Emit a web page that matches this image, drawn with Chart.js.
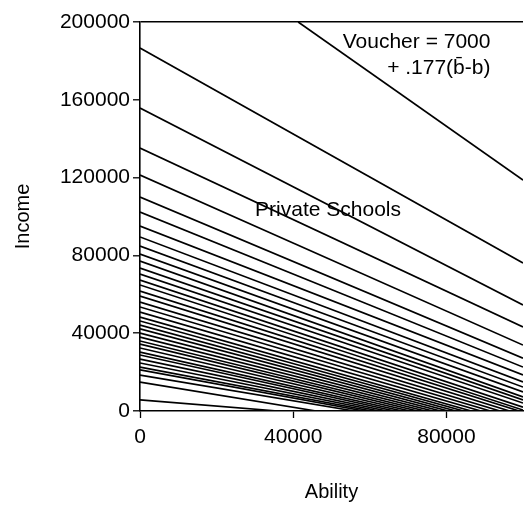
<!DOCTYPE html>
<html>
<head>
<meta charset="utf-8">
<script src="https://cdn.jsdelivr.net/npm/chart.js@4.4.1/dist/chart.umd.min.js"></script>
<style>
html,body{margin:0;padding:0;background:#fff;}
canvas{display:block;}
</style>
</head>
<body>
<canvas id="c" width="524" height="511"></canvas>
<script>
// Tick labels
const xTicks = [0, 40000, 80000];
const yTicks = [0, 40000, 80000, 120000, 160000, 200000];

// Voucher boundary line (ability, income)
const voucherAbility = [41300, 100000];
const voucherIncome = [200000, 118700];

// Income at ability = 0 for each private-school line (top to bottom)
const incomeAtZeroAbility = [186600, 155800, 135200, 121300, 110000, 102300, 95100, 89500, 84800, 80700,
  77100, 73500, 70400, 67300, 64800, 61700, 59100, 56000, 53500, 50900,
  48300, 46300, 44200, 42200, 40100, 38000, 36000, 34400, 32400, 30300,
  28800, 26700, 24700, 22600, 21100, 18500, 14900, 5700];

// Income at ability = 100000 for the lines that reach the right edge (first lines)
const incomeAtMaxAbility = [76100, 54500, 43200, 33900, 27200, 22600, 18500, 14900, 12300, 9800, 7200, 5700, 4100, 2000, 500];

// Ability where income reaches 0 for the remaining lines
const abilityAtZeroIncome = [99000, 96500, 94000, 91500, 89000, 86500, 84500, 82500, 80500, 78500,
  76500, 74500, 72500, 70500, 68500, 66500, 64500, 62500, 60500, 58500, 56000, 46000, 36000];

const maxAbility = 100000;

const datasets = [];
datasets.push({
  data: voucherAbility.map((a, i) => ({x: a, y: voucherIncome[i]}))
});
incomeAtZeroAbility.forEach((inc, i) => {
  let end;
  if (i < incomeAtMaxAbility.length) end = {x: maxAbility, y: incomeAtMaxAbility[i]};
  else end = {x: abilityAtZeroIncome[i - incomeAtMaxAbility.length], y: 0};
  datasets.push({data: [{x: 0, y: inc}, end]});
});
datasets.forEach(d => {
  d.showLine = true;
  d.borderColor = '#000';
  d.borderWidth = 1.7;
  d.pointRadius = 0;
  d.fill = false;
});

const FONT = "'Liberation Sans', Arial, Helvetica, sans-serif";

const textPlugin = {
  id: 'texts',
  afterDatasetsDraw(chart) {
    const {ctx, scales: {x, y}} = chart;
    ctx.save();
    ctx.fillStyle = '#000';
    ctx.font = '21px ' + FONT;
    ctx.textBaseline = 'middle';
    ctx.textAlign = 'right';
    ctx.fillText('Voucher = 7000', x.getPixelForValue(91500), y.getPixelForValue(189700));
    ctx.fillText('+ .177(b\u0304-b)', x.getPixelForValue(91500), y.getPixelForValue(176300));
    ctx.textAlign = 'center';
    ctx.fillText('Private Schools', x.getPixelForValue(49100), y.getPixelForValue(103300));
    ctx.restore();
  }
};

new Chart(document.getElementById('c'), {
  type: 'scatter',
  data: {datasets},
  plugins: [textPlugin],
  options: {
    responsive: false,
    animation: false,
    devicePixelRatio: 1,
    layout: {padding: {top: 22, right: 1, left: 0, bottom: 0}},
    plugins: {legend: {display: false}, tooltip: {enabled: false}},
    scales: {
      x: {
        type: 'linear', position: 'bottom', min: 0, max: maxAbility,
        afterBuildTicks: s => { s.ticks = xTicks.map(v => ({value: v})); },
        afterFit: s => { s.height = 100; },
        border: {color: '#000', width: 1.6},
        grid: {drawOnChartArea: false, drawTicks: true, tickLength: 7, tickColor: '#000', tickWidth: 1.3},
        ticks: {color: '#000', font: {family: FONT, size: 21}, padding: 7, maxRotation: 0,
          callback: v => String(v)},
        title: {display: true, text: 'Ability', color: '#000', font: {family: FONT, size: 20}, padding: {top: 0, bottom: 7}}
      },
      y: {
        type: 'linear', min: 0, max: 200000,
        afterBuildTicks: s => { s.ticks = yTicks.map(v => ({value: v})); },
        afterFit: s => { s.width = 140; },
        border: {color: '#000', width: 1.6},
        grid: {drawOnChartArea: true, drawTicks: true, tickLength: 7, tickWidth: 1.3, tickColor: '#000',
          lineWidth: 1.6,
          color: c => (c.tick && c.tick.value === 200000) ? '#000' : 'rgba(0,0,0,0)'},
        ticks: {color: '#000', font: {family: FONT, size: 21}, padding: 3, callback: v => String(v)},
        title: {display: true, text: 'Income', color: '#000', font: {family: FONT, size: 20}, padding: {top: 11, bottom: 0}}
      }
    }
  }
});
</script>
</body>
</html>
